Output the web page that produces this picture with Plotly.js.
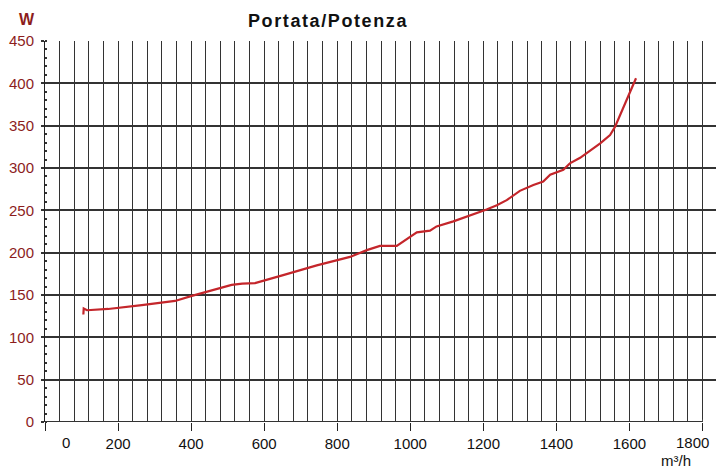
<!DOCTYPE html>
<html>
<head>
<meta charset="utf-8">
<script src="https://cdn.plot.ly/plotly-3.0.1.min.js"></script>
<style>html,body{margin:0;padding:0;background:#fff;}#chart{width:716px;height:470px;}</style>
</head>
<body>
<div id="chart"></div>
<script>
// Data (m³/h vs W)
var flow  = [105, 106, 115, 173, 265, 356, 402, 460, 511, 540, 575, 652, 744, 835, 881, 917, 963, 1018, 1054, 1072, 1118, 1209, 1237, 1264, 1300, 1337, 1364, 1383, 1419, 1437, 1465, 1520, 1547, 1561, 1583, 1602, 1618];
var power = [127, 134, 132, 133.5, 138, 143, 149, 156, 162, 163.5, 164, 173.5, 185, 195, 203, 208, 208, 224, 226, 231, 237, 251, 256, 262, 273, 280, 284, 292, 298, 305.5, 312, 329, 339, 349, 372, 390, 406];

var xTickVals = [0, 200, 400, 600, 800, 1000, 1200, 1400, 1600, 1800];
var xTickText = ['', '200', '400', '600', '800', '1000', '1200', '1400', '1600', ''];
var yTickVals = [0, 50, 100, 150, 200, 250, 300, 350, 400, 450];

var chartTitle = 'Portata/Potenza';
var yUnit = 'W';
var xUnit = 'm³/h';

var FONT = 'Liberation Sans, Arial, sans-serif';
var RED = '#8c1d1d';
var GRID = '#333333';

var trace = {
  x: flow, y: power, type: 'scatter', mode: 'lines',
  line: {color: '#c4262b', width: 2.2}, hoverinfo: 'skip'
};

var layout = {
  width: 716, height: 470,
  margin: {l: 45, r: 0, t: 41, b: 48, pad: 0},
  paper_bgcolor: '#fff', plot_bgcolor: '#fff',
  showlegend: false,
  title: {text: chartTitle, font: {family: FONT, size: 18, color: '#111', weight: 'bold'},
          x: 328/716, xanchor: 'center', xref: 'container', y: 1 - 21/470, yanchor: 'middle', yref: 'container'},
  xaxis: {
    range: [0, 1837], tickmode: 'array', tickvals: xTickVals, ticktext: xTickText,
    ticks: 'outside', ticklen: 8, tickwidth: 1, tickcolor: '#222',
    showgrid: true, gridcolor: GRID, gridwidth: 1,
    minor: {dtick: 40, tick0: 0, showgrid: true, gridcolor: GRID, gridwidth: 1, ticks: ''},
    showline: false, zeroline: false,
    tickfont: {family: FONT, size: 15, color: '#111'}
  },
  yaxis: {
    range: [0, 450], tickmode: 'array', tickvals: yTickVals,
    ticks: 'outside', ticklen: 3, tickwidth: 2, tickcolor: '#333',
    showgrid: true, gridcolor: GRID, gridwidth: 2.2,
    minor: {dtick: 10, tick0: 0, ticks: 'inside', ticklen: 2, tickwidth: 2, tickcolor: '#333', showgrid: false},
    showline: true, linecolor: '#222', linewidth: 1, zeroline: false,
    ticklabelstandoff: 4,
    tickfont: {family: FONT, size: 15, color: RED}
  },
  shapes: [
    {type: 'rect', xref: 'x', yref: 'y', x0: 1801, x1: 1840, y0: -3, y1: 3, fillcolor: '#fff', line: {width: 0}, layer: 'above'},
    {type: 'line', xref: 'x', yref: 'y', x0: 0, x1: 1800, y0: 0, y1: 0, line: {color: GRID, width: 2.2}, layer: 'above'}
  ],
  annotations: [
    {text: yUnit, xref: 'paper', yref: 'paper', x: (26.7-45)/671, y: (422-19)/381, xanchor: 'center', yanchor: 'middle',
     showarrow: false, font: {family: FONT, size: 16, color: RED, weight: 'bold'}},
    {text: xUnit, xref: 'paper', yref: 'paper', x: (675.5-45)/671, y: (422-460)/381, xanchor: 'center', yanchor: 'middle',
     showarrow: false, font: {family: FONT, size: 15, color: '#111'}},
    {text: '0', xref: 'x', yref: 'paper', x: 0, y: (422-442.5)/381, xanchor: 'center', yanchor: 'middle', xshift: 21,
     showarrow: false, font: {family: FONT, size: 15, color: '#111'}},
    {text: '1800', xref: 'x', yref: 'paper', x: 1800, y: (422-442.5)/381, xanchor: 'center', yanchor: 'middle', xshift: -10,
     showarrow: false, font: {family: FONT, size: 15, color: '#111'}}
  ]
};

Plotly.newPlot('chart', [trace], layout, {displayModeBar: false, staticPlot: true}).then(function(){
  var t = document.querySelector('.gtitle');
  if (t) { t.style.letterSpacing = '1.6px'; }
});
</script>
</body>
</html>
